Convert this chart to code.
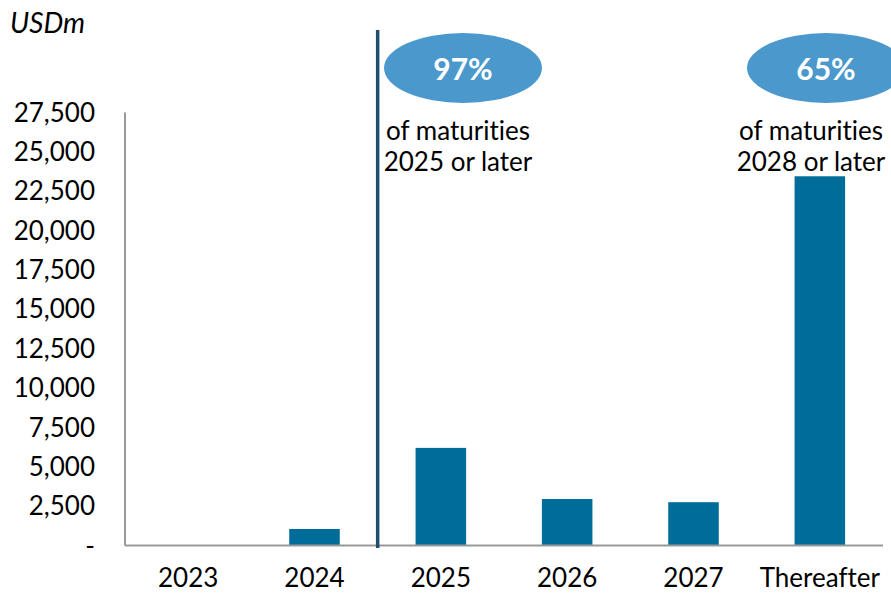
<!DOCTYPE html>
<html>
<head>
<meta charset="utf-8">
<script src="https://cdn.jsdelivr.net/npm/d3@7"></script>
<style>
  body { margin: 0; background: #fff; }
  text { font-family: Lato, "Open Sans", sans-serif; fill: #000; font-variant-ligatures: none; }
</style>
</head>
<body>
<div class="chart"></div>
<script>
const categories = ['2023', '2024', '2025', '2026', '2027', 'Thereafter'];
const values = [0, 1050, 6200, 2950, 2750, 23450];
const yTicks = [0, 2500, 5000, 7500, 10000, 12500, 15000, 17500, 20000, 22500, 25000, 27500];
const callouts = [
  { pct: '97%', lines: ['of maturities', '2025 or later'] },
  { pct: '65%', lines: ['of maturities', '2028 or later'] }
];

const width = 891;
const height = 593;
const margin = { top: 112.5, right: 8, bottom: 47.5, left: 125 };

const svg = d3
  .select('.chart')
  .append('svg')
  .attr('width', width)
  .attr('height', height);

const x = d3
  .scaleBand()
  .domain(categories)
  .range([margin.left, width - margin.right])
  .paddingInner(0.6)
  .paddingOuter(0.3);

const y = d3
  .scaleLinear()
  .domain([0, 27500])
  .range([height - margin.bottom, margin.top]);

// y axis labels
const fmt = d3.format(',');
svg
  .append('g')
  .selectAll('text')
  .data(yTicks)
  .enter()
  .append('text')
  .attr('x', 95)
  .attr('y', d => y(d))
  .attr('dy', '0.35em')
  .attr('text-anchor', 'end')
  .style('font-size', '26px')
  .text(d => (d === 0 ? '-' : fmt(d)));

// bars
svg
  .selectAll('.bar')
  .data(values)
  .enter()
  .append('rect')
  .attr('class', 'bar')
  .attr('x', (d, i) => x(categories[i]))
  .attr('width', x.bandwidth())
  .attr('y', d => y(d))
  .attr('height', d => y(0) - y(d))
  .attr('fill', '#006c99');

// axis lines
svg
  .append('line')
  .attr('x1', margin.left)
  .attr('x2', margin.left)
  .attr('y1', y(27500))
  .attr('y2', y(0))
  .attr('stroke', '#999')
  .attr('stroke-width', 2);
svg
  .append('line')
  .attr('x1', margin.left)
  .attr('x2', width - margin.right)
  .attr('y1', y(0))
  .attr('y2', y(0))
  .attr('stroke', '#999')
  .attr('stroke-width', 2);

// x labels
svg
  .append('g')
  .selectAll('text')
  .data(categories)
  .enter()
  .append('text')
  .attr('x', d => x(d) + x.bandwidth() / 2)
  .attr('y', 587)
  .attr('text-anchor', 'middle')
  .style('font-size', '26px')
  .text(d => d);

// divider between 2024 and 2025
const step = x.step();
const divX = x('2024') + x.bandwidth() + (step - x.bandwidth()) / 2;
svg
  .append('line')
  .attr('x1', divX)
  .attr('x2', divX)
  .attr('y1', 30)
  .attr('y2', y(0) + 2.5)
  .attr('stroke', '#1f4e6e')
  .attr('stroke-width', 3.5);

// callouts
const cx0 = [463, 826];
callouts.forEach((c, i) => {
  const cx = cx0[i];
  svg
    .append('ellipse')
    .attr('cx', cx)
    .attr('cy', 68)
    .attr('rx', 79)
    .attr('ry', 35)
    .attr('fill', '#4a98cc');
  svg
    .append('text')
    .attr('x', cx)
    .attr('y', 69)
    .attr('dy', '0.35em')
    .attr('text-anchor', 'middle')
    .style('font-size', '30px')
    .style('font-weight', 'bold')
    .style('fill', '#fff')
    .text(c.pct);
  c.lines.forEach((t, j) => {
    svg
      .append('text')
      .attr('x', i === 0 ? 458 : 811)
      .attr('y', 140 + j * 31)
      .attr('text-anchor', 'middle')
      .style('font-size', '26px')
      .text(t);
  });
});

svg
  .append('text')
  .attr('x', 10)
  .attr('y', 33)
  .style('font-size', '28px')
  .style('font-style', 'italic')
  .text('USDm');
</script>
</body>
</html>
